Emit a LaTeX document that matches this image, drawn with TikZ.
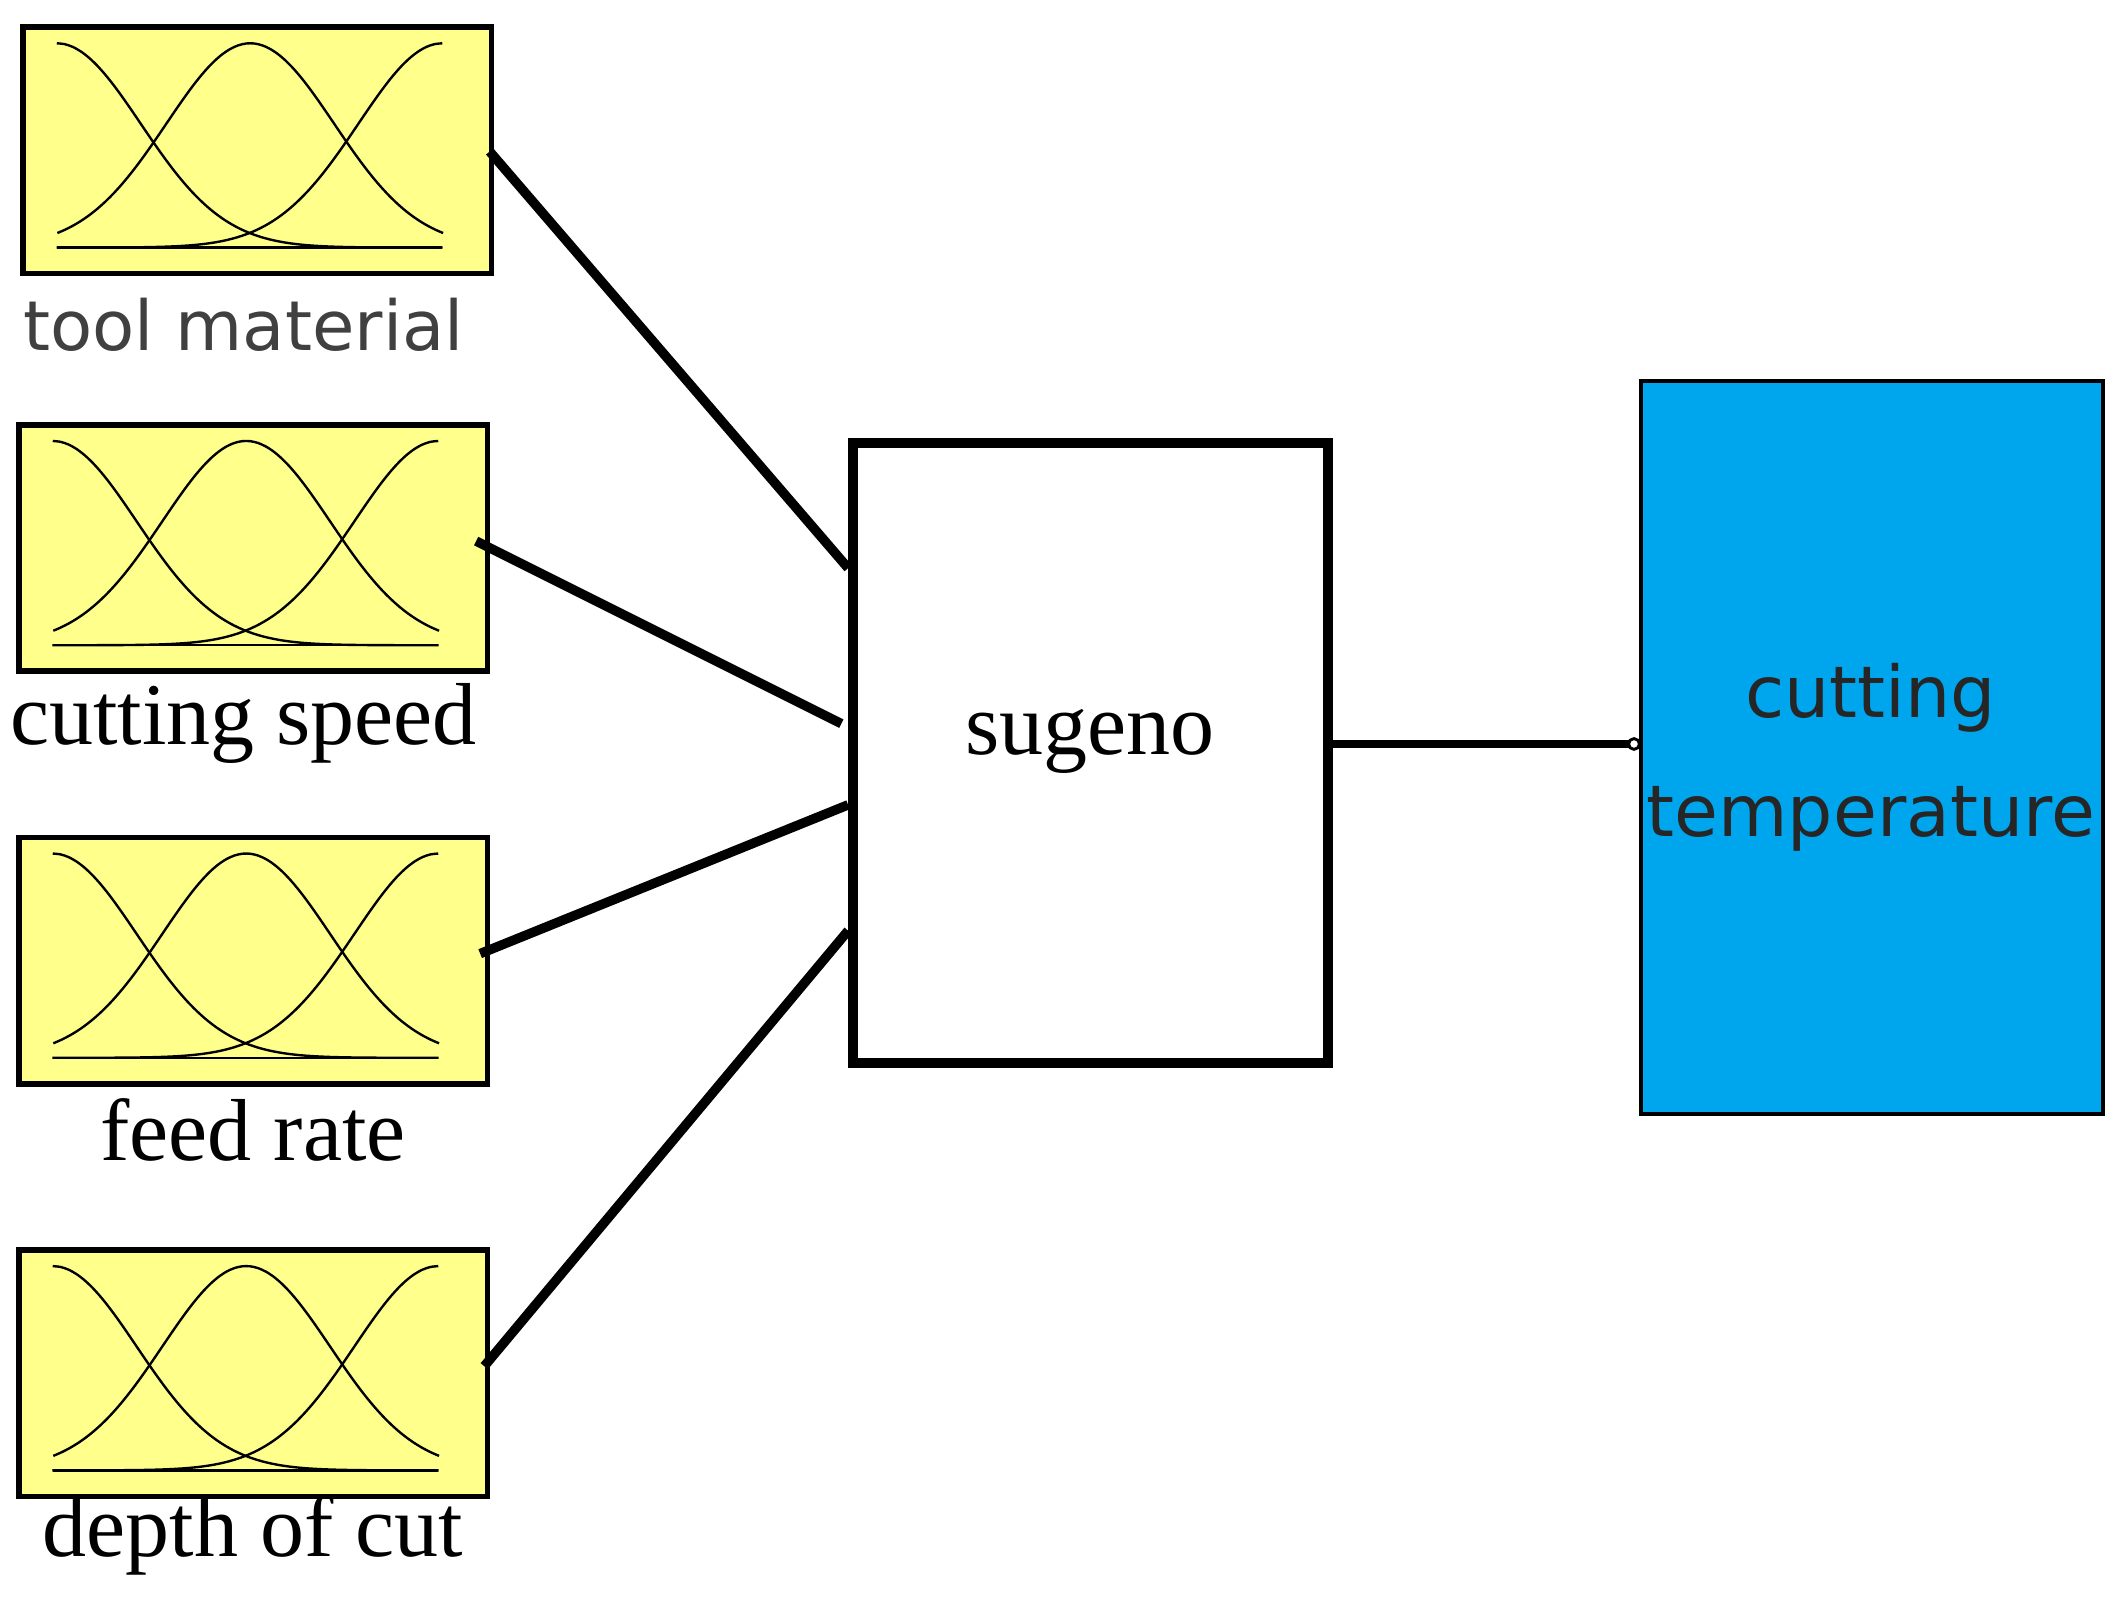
\documentclass[tikz,border=0pt]{standalone}
\usepackage{fontspec}
\setmainfont{Liberation Serif}
\newfontfamily\sansf{DejaVu Sans}
\begin{document}
\begin{tikzpicture}[x=0.01cm,y=-0.01cm,
  inbox/.style={draw=black,line width=1.2pt,fill={rgb,255:red,255;green,255;blue,140},minimum width=3.46cm,minimum height=1.82cm,anchor=north west,inner sep=0},
  lab/.style={font=\fontsize{18.5}{22}\selectfont},
  conn/.style={line width=2pt},
  mf/.pic={
    \draw[line width=0.5pt] (27,165) -- (312,165);
    \draw[line width=0.5pt,smooth] plot[domain=0:4.6,samples=50] ({27+62*\x},{165-151*exp(-\x*\x/2)});
    \draw[line width=0.5pt,smooth] plot[domain=-2.3:2.3,samples=50] ({170+62*\x},{165-151*exp(-\x*\x/2)});
    \draw[line width=0.5pt,smooth] plot[domain=-4.6:0,samples=50] ({312+62*\x},{165-151*exp(-\x*\x/2)});
  }]
\useasboundingbox (0,0) rectangle (1568,1181);
\node[inbox] (b1) at (15,18) {};
\node[inbox] (b2) at (12,312) {};
\node[inbox] (b3) at (12,617) {};
\node[inbox] (b4) at (12,922) {};
\pic at (15,18) {mf};
\pic at (12,312) {mf};
\pic at (12,617) {mf};
\pic at (12,922) {mf};
\node[font=\sansf\fontsize{14.5}{18}\selectfont,text=black!75] (l1) at (180,240) {tool material};
\node[lab] (l2) at (180,535) {cutting speed};
\node[lab] (l3) at (187,835) {feed rate};
\node[lab] (l4) at (187,1135) {depth of cut};
\node[draw=black,line width=2pt,minimum width=3.51cm,minimum height=4.58cm,anchor=north west,inner sep=0] (s) at (627,324) {};
\node[lab] (st) at (806,548) {sugeno};
\node[draw=black,line width=0.8pt,fill={rgb,255:red,0;green,166;blue,237},minimum width=3.41cm,minimum height=5.42cm,anchor=north west,inner sep=0] (o) at (1212,280) {};
\node[align=center,font=\sansf\fontsize{15}{25}\selectfont,text=black!85] (ot) at (1383,560) {cutting\\temperature};
\coordinate (p1) at (362,112); \coordinate (q1) at (627,420);
\coordinate (p2) at (352,400); \coordinate (q2) at (622,535);
\coordinate (p3) at (355,705); \coordinate (q3) at (627,595);
\coordinate (p4) at (358,1010); \coordinate (q4) at (627,688);
\coordinate (so) at (978,550); \coordinate (oi) at (1208,550);
\draw[conn] (p1) -- (q1);
\draw[conn] (p2) -- (q2);
\draw[conn] (p3) -- (q3);
\draw[conn] (p4) -- (q4);
\draw[line width=1.5pt] (so) -- (oi);
\draw[line width=0.6pt,fill=white] (oi) circle (4);
\end{tikzpicture}
\end{document}
